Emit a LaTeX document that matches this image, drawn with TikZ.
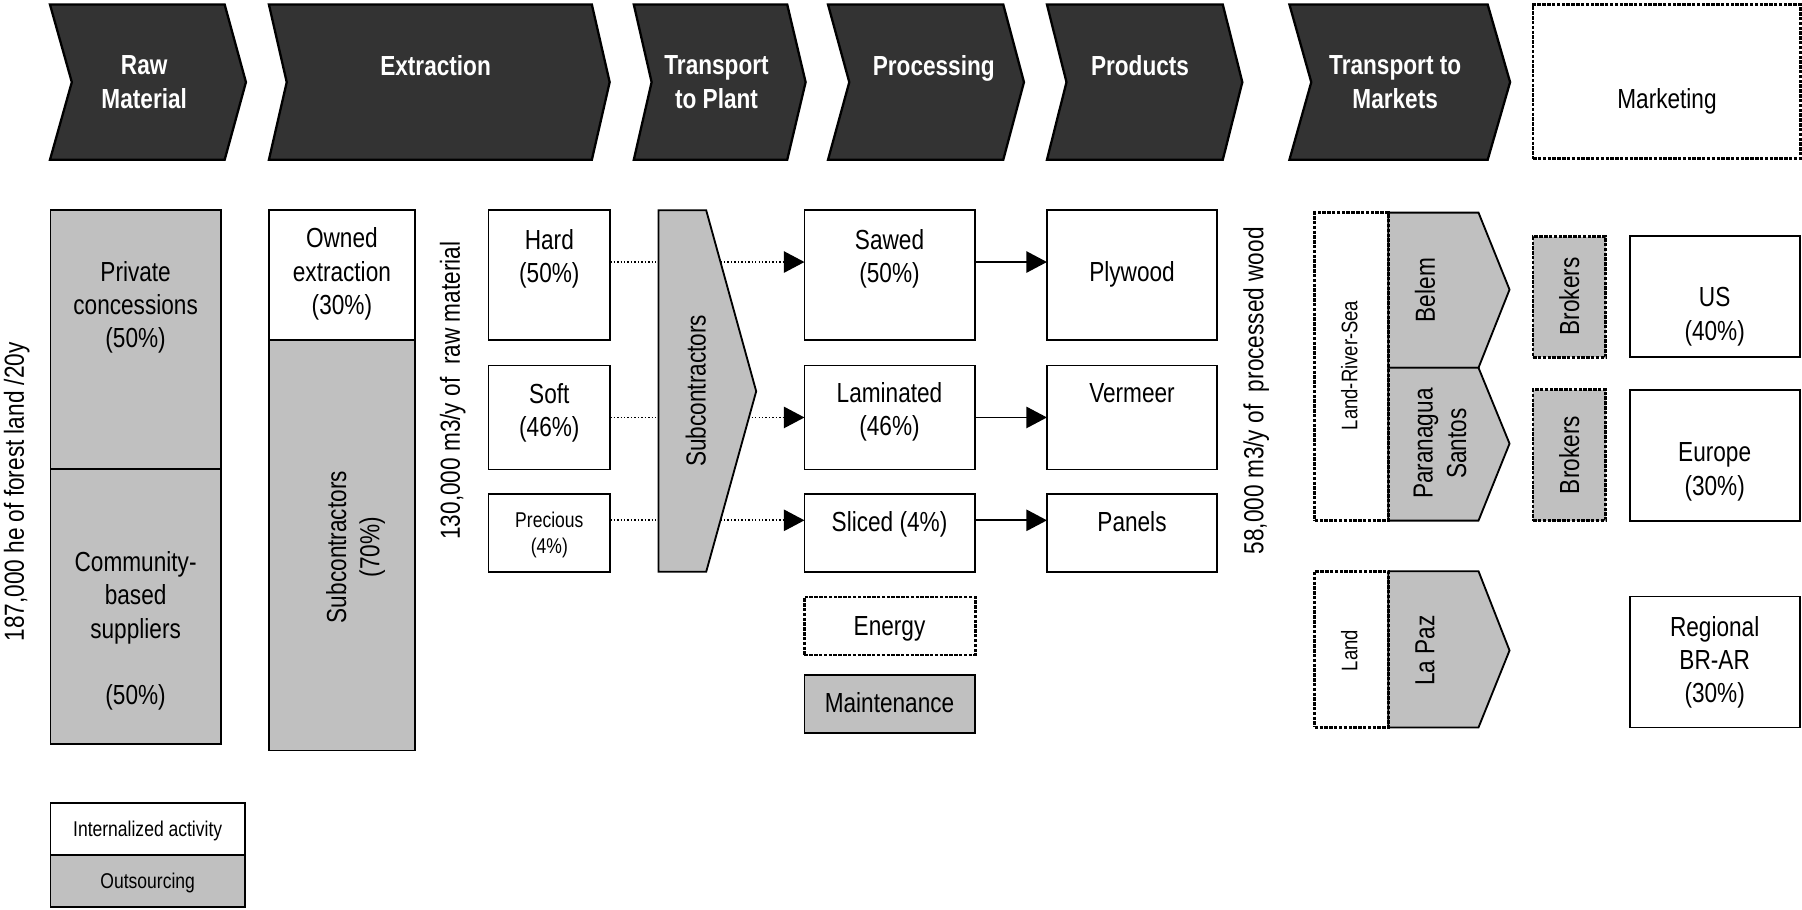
\documentclass[tikz,border=0pt]{standalone}
\usepackage{fontspec}
\setmainfont{Liberation Sans}[FakeStretch=0.82]
\usetikzlibrary{arrows.meta,fit}
\definecolor{chevgray}{HTML}{333333}
\definecolor{boxgray}{HTML}{C0C0C0}
\begin{document}
\begin{tikzpicture}[x=0.5pt,y=-0.5pt,
  every node/.style={inner sep=0pt, outer sep=0pt, align=center, text depth=0pt, font=\fontsize{12}{14.5}\selectfont},
  rot/.style={rotate=90, text depth={}},
  chev/.style={fill=chevgray, draw=black, line width=1pt},
  hd/.style={text=white, font=\fontsize{12}{14.5}\selectfont\bfseries},
  wbox/.style={draw=black, fill=white, line width=0.8pt},
  gbox/.style={draw=black, fill=boxgray, line width=0.8pt},
  dbox/.style={draw=black, line width=1.2pt, dash pattern=on 1.5pt off 0.6pt},
  pent/.style={draw=black, fill=boxgray, line width=0.8pt},
  dotline/.style={line width=0.6pt, dash pattern=on 0.6pt off 0.9pt},
  arr/.style={-{Triangle[length=9pt,width=9.3pt]}, line width=0.8pt},
  small/.style={font=\fontsize{9.3}{11.5}\selectfont},
  rsmall/.style={font=\fontsize{9.8}{11.8}\selectfont},
]
\useasboundingbox (0,0) rectangle (1568,791);

% ---------- header chevrons ----------
\draw[chev] (43.5,4) -- (195.5,4) -- (214,71.5) -- (195.5,139) -- (43.5,139) -- (62.5,71.5) -- cycle;
\draw[chev] (234,4) -- (515,4) -- (530.5,71.5) -- (515,139) -- (234,139) -- (249.5,71.5) -- cycle;
\draw[chev] (551.5,4) -- (685,4) -- (701,71.5) -- (685,139) -- (551.5,139) -- (567,71.5) -- cycle;
\draw[chev] (720.5,4) -- (873,4) -- (891,71.5) -- (873,139) -- (720.5,139) -- (739,71.5) -- cycle;
\draw[chev] (911,4) -- (1064,4) -- (1081,71.5) -- (1064,139) -- (911,139) -- (928,71.5) -- cycle;
\draw[chev] (1122,4) -- (1294.5,4) -- (1314,71.5) -- (1294.5,139) -- (1122,139) -- (1141,71.5) -- cycle;
\node[hd] (hraw) at (125.5,71.5) {Raw\\Material};
\node[hd] (hext) at (379,57) {Extraction};
\node[hd] (htp) at (623.5,71.5) {Transport\\to Plant};
\node[hd] (hproc) at (812.5,57) {Processing};
\node[hd] (hprod) at (992,57) {Products};
\node[hd] (htm) at (1214,71.5) {Transport to\\Markets};
\node[dbox, fit={(1334,4)(1566.5,138)}] (mkt) {};
\node (mktt) at (1450.5,86) {Marketing};

% ---------- raw material ----------
\node[gbox, fit={(44,183)(192.5,408)}] (priv) {};
\node[gbox, fit={(44,408)(192.5,647.5)}] (comm) {};
\node (privt) at (118,265) {Private\\concessions\\(50\%)};
\node (commt) at (118,546.5) {Community-\\based\\suppliers\\[14.5pt](50\%)};
\node[rot] (forest) at (14.5,428) {187,000 he of forest land /20y};

% ---------- extraction ----------
\node[wbox, fit={(234,183)(361,296)}] (owned) {};
\node[gbox, fit={(234,296)(361,653)}] (subx) {};
\node (ownedt) at (297.5,236) {Owned\\extraction\\(30\%)};
\node[rot] (subxt) at (309.5,476) {Subcontractors\\(70\%)};
\node[rot] (rawvol) at (394,340) {130,000 m3/y of\ \ raw material};
\node[wbox, fit={(425,183)(531,296)}] (hard) {};
\node[wbox, fit={(425,318)(531,408.5)}] (soft) {};
\node[wbox, fit={(425,430)(531,497.5)}] (prec) {};
\node (hardt) at (478,222.5) {Hard\\(50\%)};
\node (softt) at (478,356.5) {Soft\\(46\%)};
\node[small] (prect) at (478,463.5) {Precious\\(4\%)};

% ---------- processing ----------
\node[wbox, fit={(700,183)(848.5,296)}] (sawed) {};
\node[wbox, fit={(700,318)(848.5,408.5)}] (lam) {};
\node[wbox, fit={(700,430)(848.5,497.5)}] (slic) {};
\node[dbox, fit={(700,519.5)(848.5,570)}] (energy) {};
\node[gbox, fit={(700,587)(848.5,638)}] (maint) {};
\node (sawedt) at (774,222.5) {Sawed\\(50\%)};
\node (lamt) at (774,356) {Laminated\\(46\%)};
\node (slict) at (774,454) {Sliced (4\%)};
\node (energyt) at (774,544.5) {Energy};
\node (maintt) at (774,611) {Maintenance};

% ---------- products ----------
\node[wbox, fit={(911,183)(1059,296)}] (ply) {};
\node[wbox, fit={(911,318)(1059,408.5)}] (verm) {};
\node[wbox, fit={(911,430)(1059,497.5)}] (pan) {};
\node (plyt) at (985,236) {Plywood};
\node (vermt) at (985,342) {Vermeer};
\node (pant) at (985,454) {Panels};
\node[rot] (procvol) at (1093,340) {58,000 m3/y of\ \ processed wood};

% ---------- connectors ----------
\draw[dotline, arr] ([yshift=5.75pt]hard.east) -- ([yshift=5.75pt]sawed.west);
\draw[dotline, arr] (soft.east) -- (lam.west);
\draw[dotline, arr] ([yshift=5.5pt]prec.east) -- ([yshift=5.5pt]slic.west);
\draw[arr] ([yshift=5.75pt]sawed.east) -- ([yshift=5.75pt]ply.west);
\draw[arr] (lam.east) -- (verm.west);
\draw[arr] ([yshift=5.5pt]slic.east) -- ([yshift=5.5pt]pan.west);

% transport to plant subcontractors (over the dotted lines)
\draw[pent] (573,183) -- (614.5,183) -- (658,340.5) -- (614.5,497.5) -- (573,497.5) -- cycle;
\node[rot] (subpt) at (605.5,340) {Subcontractors};

% ---------- transport to markets ----------
\draw[pent] (1208,185) -- (1286.5,185) -- (1313.5,252) -- (1286.5,320) -- (1208,320) -- cycle;
\draw[pent] (1208,320) -- (1286.5,320) -- (1313.5,386) -- (1286.5,453) -- (1208,453) -- cycle;
\draw[pent] (1208,497) -- (1286.5,497) -- (1313.5,566) -- (1286.5,633) -- (1208,633) -- cycle;
\node[dbox, fit={(1144,185)(1208,453)}] (lrs) {};
\node[dbox, fit={(1144,497)(1208,633)}] (land) {};
\node[rot, rsmall] (lrst) at (1174,318) {Land-River-Sea};
\node[rot, rsmall] (landt) at (1174,566) {Land};
\node[rot] (belem) at (1240,252.5) {Belem};
\node[rot] (para) at (1253,386) {Paranagua\\Santos};
\node[rot] (lapaz) at (1240,566) {La Paz};

% ---------- marketing ----------
\node[dbox, fill=boxgray, fit={(1334,206)(1397,311)}] (brk1) {};
\node[dbox, fill=boxgray, fit={(1334,339)(1397,453)}] (brk2) {};
\node[rot] (brk1t) at (1365.5,258) {Brokers};
\node[rot] (brk2t) at (1365.5,396) {Brokers};
\node[wbox, fit={(1418.5,205)(1566.5,311)}] (us) {};
\node[wbox, fit={(1418.5,339)(1566.5,453)}] (eu) {};
\node[wbox, fit={(1418.5,519)(1566.5,633)}] (reg) {};
\node (ust) at (1492,273) {US\\(40\%)};
\node (eut) at (1492,408) {Europe\\(30\%)};
\node (regt) at (1492,574) {Regional\\BR-AR\\(30\%)};

% ---------- legend ----------
\node[wbox, fit={(44,699)(213,744)}] (lint) {};
\node[gbox, fit={(44,744)(213,789)}] (lout) {};
\node[small] (lintt) at (128.5,721.5) {Internalized activity};
\node[small] (loutt) at (128.5,766.5) {Outsourcing};
\end{tikzpicture}
\end{document}
